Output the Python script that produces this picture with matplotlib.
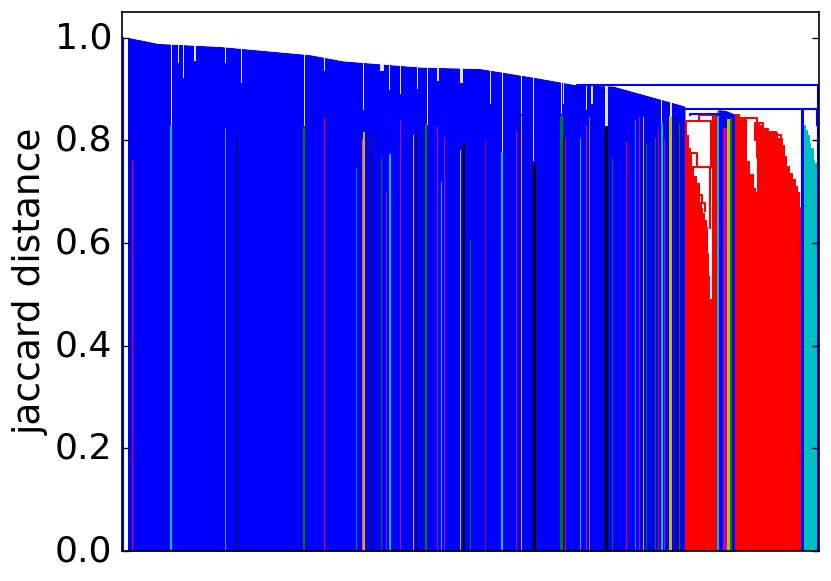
import matplotlib
matplotlib.use('Agg')
import matplotlib.pyplot as plt
from matplotlib.transforms import ScaledTranslation

BLUE = '#0000ff'
RED = '#ff0000'
CYAN = '#00bfbf'
GREEN = '#008000'
MAGENTA = '#bf00bf'
OLIVE = '#bfbf00'
BLACK = '#000000'

# main blue cluster, upper edge
blue_x = [0, 8, 36, 98, 188, 221, 298, 358, 415, 455, 491, 528, 561, 563]
blue_y = [1.0, 1.0, 0.989, 0.983, 0.967, 0.955, 0.943, 0.94, 0.922, 0.908, 0.906, 0.886, 0.868, 0.866]

blue2_x = [596, 604, 613]
blue2_y = [0.86, 0.858, 0.851]
blue3_x = [679, 681.5]
blue3_y = [0.86, 0.86]
blue4_x = [694.5, 697]
blue4_y = [0.861, 0.861]

# red clusters
red1_x = [563, 565, 567, 568.5, 570, 572, 575, 578, 580, 581, 583, 585, 586, 587, 588, 590]
red1_y = [0.83, 0.81, 0.785, 0.765, 0.748, 0.73, 0.716, 0.677, 0.668, 0.658, 0.645, 0.632, 0.58, 0.535, 0.49, 0.49]
red2_x = [589.7, 596.3]
red2_y = [0.851, 0.851]
red3_x = [613, 618, 624, 625, 628, 632, 634, 635, 638, 641, 645, 652, 656, 661, 663, 665, 668, 671, 674, 676, 678, 679]
red3_y = [0.851, 0.845, 0.838, 0.76, 0.735, 0.708, 0.70, 0.836, 0.83, 0.82, 0.818, 0.816, 0.805, 0.79, 0.77, 0.75, 0.737, 0.725, 0.712, 0.70, 0.67, 0.66]

cyan_x = [681.5, 684, 686, 688, 689, 691.5, 693, 694.5]
cyan_y = [0.83, 0.82, 0.81, 0.795, 0.785, 0.762, 0.755, 0.745]

# thin coloured clusters inside the blue area
stripe_x = [10.3, 48.7, 103, 115, 182, 202.7, 234, 240.7, 242, 248, 259.7, 264, 267.7, 278, 291.7, 294.7,
            304, 315, 319, 322, 338, 341.7, 348, 363, 379.7, 394, 399.7, 412.3, 439.7, 443, 458, 464.7,
            467.7, 484.7, 490, 504.7, 513.7, 517, 521, 524, 533, 536, 540, 542, 548.7, 554, 557,
            596.3, 603, 606.3, 608.3, 609.3]
stripe_w = [1, 2, 1, 1, 2.5, 1.5, 1, 1, 1.5, 1, 1, 1, 2, 1, 1, 1,
            2.5, 1, 1, 1, 1, 2, 1, 1, 2, 1, 1, 2.5, 3, 1, 1, 1,
            1, 3, 1, 1.5, 1, 1, 1, 1, 1, 1, 2.5, 1, 3, 1, 1,
            2, 4, 2.5, 1.5, 2]
stripe_top = [0.762, 0.828, 0.824, 0.80, 0.826, 0.845, 0.746, 0.803, 0.816, 0.814, 0.766, 0.70, 0.773, 0.84, 0.81, 0.816,
              0.832, 0.828, 0.719, 0.807, 0.781, 0.797, 0.606, 0.80, 0.777, 0.818, 0.847, 0.756, 0.847, 0.805, 0.805, 0.83,
              0.845, 0.826, 0.766, 0.797, 0.84, 0.845, 0.845, 0.793, 0.805, 0.82, 0.833, 0.803, 0.847, 0.843, 0.832,
              0.857, 0.825, 0.841, 0.823, 0.843]
stripe_color = [RED, CYAN, '#808080', BLACK, GREEN, RED, '#0080c0', '#ff3090', OLIVE, BLACK, GREEN, MAGENTA, CYAN, MAGENTA, OLIVE, BLACK,
                GREEN, MAGENTA, CYAN, MAGENTA, OLIVE, BLACK, GREEN, '#a00060', CYAN, MAGENTA, OLIVE, BLACK, GREEN, RED, CYAN, MAGENTA,
                '#808080', BLACK, GREEN, RED, '#0090d0', MAGENTA, OLIVE, GREEN, GREEN, RED, CYAN, MAGENTA, OLIVE, BLACK, GREEN,
                CYAN, MAGENTA, OLIVE, BLACK, GREEN]

# pale gaps between blue leaves
gap_x = [49.3, 56.3, 61.3, 73.3, 103.3, 119.3, 182.7, 202.7, 241.3, 259.7, 267.3, 278.7, 295.7, 305.3, 316.3, 339.7,
         368.7, 380.7, 399.7, 411.3, 439.7, 441.5, 464.7, 470, 484.7, 519.7, 539.7, 549]
gap_w = [1, 1, 1, 2, 0.6, 0.6, 1, 1, 0.7, 4, 1.5, 0.7, 0.6, 1, 2, 3,
         0.7, 1, 0.7, 1, 1.5, 1, 1, 1.5, 2.5, 1, 1, 1.5]
gap_low = [0.828, 0.951, 0.922, 0.954, 0.95, 0.912, 0.828, 0.935, 0.86, 0.935, 0.899, 0.89, 0.90, 0.83, 0.915, 0.912,
           0.87, 0.778, 0.851, 0.76, 0.851, 0.87, 0.86, 0.87, 0.828, 0.89, 0.834, 0.847]

# dendrogram links left, right, left low, right low, top
red_link_left = [563.7, 577.3, 569.7, 569, 575.3, 579, 614.7, 633, 620, 640, 650, 655]
red_link_right = [589.3, 590.7, 588, 574.7, 579.7, 583.3, 634.7, 640.7, 624, 646, 654, 659]
red_link_lowl = [0.825, 0.839, 0.748, 0.75, 0.68, 0.677, 0.84, 0.80, 0.83, 0.81, 0.80, 0.80]
red_link_lowr = [0.748, 0.839, 0.63, 0.75, 0.677, 0.663, 0.767, 0.82, 0.80, 0.80, 0.79, 0.78]
red_link_top = [0.838, 0.85, 0.748, 0.776, 0.694, 0.677, 0.843, 0.834, 0.84, 0.822, 0.817, 0.81]

blue_link_left = [455, 561, 568, 679.5]
blue_link_right = [695.5, 695.5, 596, 695]
blue_link_lowl = [0.90, 0.86, 0.85, 0.5]
blue_link_lowr = [0.861, 0.5, 0.85, 0.83]
blue_link_top = [0.907, 0.861, 0.851, 0.861]

fig = plt.figure(figsize=(8.31, 5.81), dpi=100)
ax = fig.add_axes([122 / 831, 1 - 551 / 581, 697 / 831, 539 / 581])

for xs, ys, col in [(blue_x, blue_y, BLUE), (blue2_x, blue2_y, BLUE), (blue3_x, blue3_y, BLUE),
                    (blue4_x, blue4_y, BLUE)]:
    ax.fill_between(xs, 0, ys, color=col, lw=0)
for xs, ys, col in [(red1_x, red1_y, RED), (red2_x, red2_y, RED), (red3_x, red3_y, RED), (cyan_x, cyan_y, CYAN)]:
    ax.fill_between(xs, 0, ys, color=col, lw=0, step='post')

# white strip next to the first leaf
ax.bar(3.5, 1.0, width=5, color='white', lw=0)
ax.bar(gap_x, [1.05 - v for v in gap_low], width=gap_w, bottom=gap_low, color='#e4e4ff', lw=0)
ax.fill_between(blue_x, blue_y, 1.05, color='white', lw=0)
ax.bar(stripe_x, stripe_top, width=stripe_w, color=stripe_color, lw=0)

for i in range(len(red_link_top)):
    ax.plot([red_link_left[i], red_link_left[i], red_link_right[i], red_link_right[i]],
            [red_link_lowl[i], red_link_top[i], red_link_top[i], red_link_lowr[i]], color=RED, lw=1.5)
for i in range(len(blue_link_top)):
    ax.plot([blue_link_left[i], blue_link_left[i], blue_link_right[i], blue_link_right[i]],
            [blue_link_lowl[i], blue_link_top[i], blue_link_top[i], blue_link_lowr[i]], color=BLUE, lw=1.5)
ax.plot([1, 1], [0, 1], color=BLUE, lw=1.5)

ax.set_xlim(0, 697)
ax.set_ylim(0, 1.05)
ax.set_xticks([])
ax.set_yticks([0.0, 0.2, 0.4, 0.6, 0.8, 1.0])
ax.tick_params(axis='y', direction='in', length=5, width=1, left=True, right=True, labelsize=26, pad=7)
# labels sit a little higher than the default
up = ScaledTranslation(0, 3 / 100, fig.dpi_scale_trans)
for lab in ax.get_yticklabels():
    lab.set_transform(lab.get_transform() + up)
ax.set_ylabel('jaccard distance', fontsize=27, labelpad=4)
for s in ax.spines.values():
    s.set_linewidth(1.2)

fig.savefig('out.png', dpi=100)
